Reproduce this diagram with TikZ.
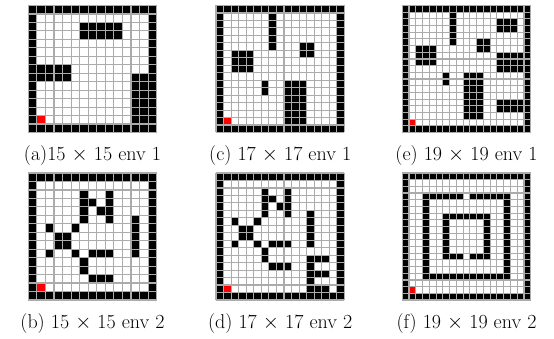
\documentclass[tikz,border=0pt]{standalone}
\tikzset{
  gridln/.style={draw=black!33, line width=1.15pt},
  envcap/.style={anchor=base, inner sep=0pt, font=\fontsize{20}{24}\selectfont},
}
\newcommand\drawenv[4]{%
  \pgfmathsetmacro\envcw{128.4/#3}%
  \pgfmathsetmacro\envch{127/#3}%
  \pgfmathtruncatemacro\envlast{#3-1}%
  \pgfmathtruncatemacro\envred{#3-2}%
  \begin{scope}[shift={(#1,#2)}, x=\envcw pt, y=-\envch pt]
    \fill[white] (0,0) rectangle (#3,#3);
    \fill[black] (0,0) rectangle (#3,1);
    \fill[black] (0,\envlast) rectangle (#3,#3);
    \fill[black] (0,0) rectangle (1,#3);
    \fill[black] (\envlast,0) rectangle (#3,#3);
    \fill[black] #4;
    \fill[red] (1,\envred) rectangle (2,\envred+1);
    \foreach \i in {0,...,#3} {
      \draw[gridln] (\i,0) -- (\i,#3);
      \draw[gridln] (0,\i) -- (#3,\i);
    }
  \end{scope}}
\begin{document}
\begin{tikzpicture}[x=1pt, y=-1pt]
  \useasboundingbox[fill=white] (0,0) rectangle (554,339);
  % (a) 15x15 env 1
  \drawenv{28.3}{5.5}{15}{(6,2) rectangle (11,4) (1,7) rectangle (5,9) (12,8) rectangle (14,14)}
  % (c) 17x17 env 1
  \drawenv{216}{5.5}{17}{(7,1) rectangle (8,6) (11,5) rectangle (13,7) (2,6) rectangle (5,9)
    (6,10) rectangle (7,12) (9,10) rectangle (12,16)}
  % (e) 19x19 env 1
  \drawenv{402.3}{5.5}{19}{(7,1) rectangle (8,6) (14,2) rectangle (17,4) (11,5) rectangle (13,7)
    (2,6) rectangle (5,9) (14,7) rectangle (18,10) (6,10) rectangle (7,12)
    (9,10) rectangle (12,17) (14,14) rectangle (18,16)}
  % (b) 15x15 env 2
  \drawenv{28.3}{173}{15}{(6,2) rectangle (7,6) (9,2) rectangle (10,6) (7,3) rectangle (8,4)
    (8,4) rectangle (9,5) (12,5) rectangle (13,10) (2,6) rectangle (3,7) (5,6) rectangle (6,7)
    (3,7) rectangle (5,9) (2,9) rectangle (3,10) (5,9) rectangle (6,10) (7,9) rectangle (10,10)
    (6,10) rectangle (7,12) (7,12) rectangle (10,13)}
  % (d) 17x17 env 2
  \drawenv{216}{173}{17}{(6,2) rectangle (7,6) (9,2) rectangle (10,6) (7,3) rectangle (8,4)
    (8,4) rectangle (9,5) (12,5) rectangle (13,10) (2,6) rectangle (3,7) (5,6) rectangle (6,7)
    (3,7) rectangle (5,9) (2,9) rectangle (3,10) (5,9) rectangle (6,10) (7,9) rectangle (10,10)
    (6,10) rectangle (7,12) (7,12) rectangle (10,13)
    (12,11) rectangle (13,16) (13,11) rectangle (15,12) (13,13) rectangle (15,14) (13,15) rectangle (15,16)}
  % (f) 19x19 env 2
  \drawenv{402.3}{173}{19}{(3,3) rectangle (9,4) (10,3) rectangle (16,4) (3,3) rectangle (4,16)
    (15,3) rectangle (16,16) (3,15) rectangle (16,16)
    (6,6) rectangle (13,7) (6,6) rectangle (7,13) (12,6) rectangle (13,13)
    (6,12) rectangle (9,13) (10,12) rectangle (13,13)}
  % captions
  \node[envcap] (capa) at (92.5,161) {(a)15 $\times$ 15 env 1};
  \node[envcap] (capc) at (280.2,161) {(c) 17 $\times$ 17 env 1};
  \node[envcap] (cape) at (466.5,161) {(e) 19 $\times$ 19 env 1};
  \node[envcap] (capb) at (92.5,328) {(b) 15 $\times$ 15 env 2};
  \node[envcap] (capd) at (280.2,328) {(d) 17 $\times$ 17 env 2};
  \node[envcap] (capf) at (466.5,328) {(f) 19 $\times$ 19 env 2};
\end{tikzpicture}
\end{document}
